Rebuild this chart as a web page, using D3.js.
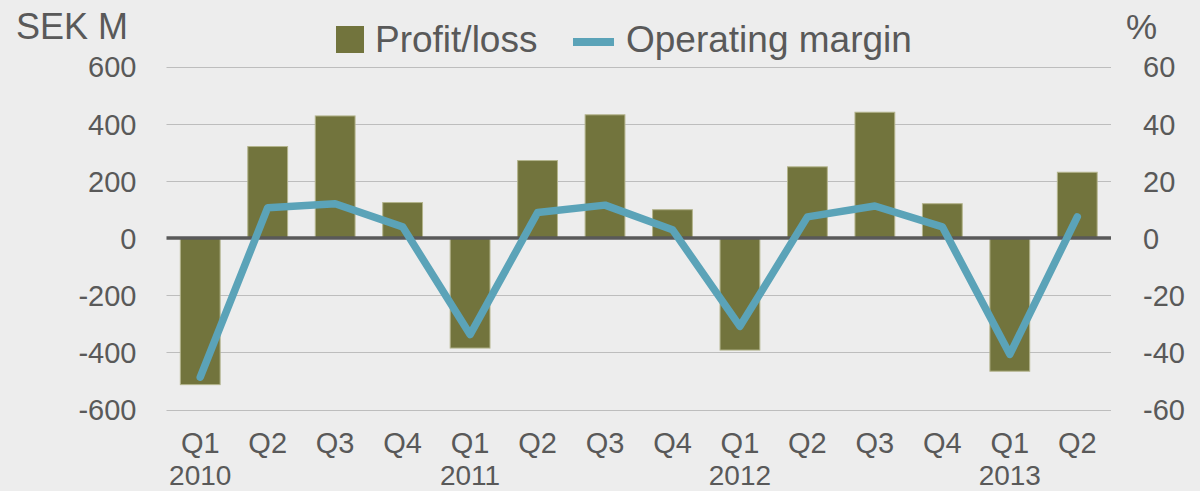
<!DOCTYPE html>
<html>
<head>
<meta charset="utf-8">
<script src="https://cdn.jsdelivr.net/npm/d3@7"></script>
<style>
  body { margin: 0; background: #ededed; }
  svg { display: block; font-family: "Liberation Sans", Arial, sans-serif; }
</style>
</head>
<body>
<div class="chart-container"></div>
<script>
var width = 1200;
var height = 491;

var quarters = ["Q1", "Q2", "Q3", "Q4", "Q1", "Q2", "Q3", "Q4", "Q1", "Q2", "Q3", "Q4", "Q1", "Q2"];
var years = ["2010", "", "", "", "2011", "", "", "", "2012", "", "", "", "2013", ""];
var profitLoss = [-513, 320, 427, 124, -385, 271, 431, 99, -392, 249, 440, 120, -466, 230];
var operatingMargin = [-48.7, 10.6, 12.0, 3.9, -33.8, 8.9, 11.5, 2.9, -30.9, 7.4, 11.2, 3.9, -40.7, 7.4];
var leftTicks = [-600, -400, -200, 0, 200, 400, 600];
var rightTicks = [-60, -40, -20, 0, 20, 40, 60];

var margin = { top: 67, right: 89, bottom: 82, left: 166.5 };
var textColor = "#595959";

var svg = d3.select(".chart-container")
  .append("svg")
  .attr("width", width)
  .attr("height", height);

svg.append("rect")
  .attr("width", width)
  .attr("height", height)
  .style("fill", "#ededed");

var idx = d3.range(quarters.length);

var x = d3.scaleBand()
  .domain(idx)
  .range([margin.left, width - margin.right])
  .paddingInner(0.41)
  .paddingOuter(0.205);

var xc = function (i) { return x(i) + x.bandwidth() / 2; };

var yLeft = d3.scaleLinear().domain([-600, 600]).range([height - margin.bottom + 0.5, margin.top - 0.5]);
var yRight = d3.scaleLinear().domain([-60, 60]).range(yLeft.range());

// plain hyphen for negatives, like the original
var fmt = function (d) { return String(d); };

// gridlines
svg.append("g")
  .selectAll("line")
  .data(leftTicks.filter(function (d) { return d !== 0; }))
  .enter()
  .append("line")
  .attr("x1", margin.left)
  .attr("x2", width - margin.right)
  .attr("y1", function (d) { return Math.round(yLeft(d)) + 0.5; })
  .attr("y2", function (d) { return Math.round(yLeft(d)) + 0.5; })
  .style("stroke", "#bdbdbd")
  .style("stroke-width", 1.2);

// left axis
var leftAxis = svg.append("g")
  .attr("transform", "translate(" + (margin.left - 30) + ",0)")
  .call(d3.axisLeft(yLeft).tickValues(leftTicks).tickFormat(fmt).tickSize(0).tickPadding(0));
leftAxis.select(".domain").remove();
leftAxis.selectAll("text")
  .style("font-size", "29px")
  .style("fill", textColor)
  .attr("dy", "0.36em");

// right axis
var rightAxis = svg.append("g")
  .attr("transform", "translate(" + (width - margin.right + 32) + ",0)")
  .call(d3.axisRight(yRight).tickValues(rightTicks).tickFormat(fmt).tickSize(0).tickPadding(0));
rightAxis.select(".domain").remove();
rightAxis.selectAll("text")
  .style("font-size", "29px")
  .style("fill", textColor)
  .attr("dy", "0.36em");

// bars
svg.append("g")
  .selectAll("rect")
  .data(profitLoss)
  .enter()
  .append("rect")
  .attr("x", function (d, i) { return x(i); })
  .attr("width", x.bandwidth())
  .attr("y", function (d) { return yLeft(Math.max(0, d)); })
  .attr("height", function (d) { return Math.abs(yLeft(d) - yLeft(0)); })
  .style("fill", "#72743d")
  .style("stroke", "#b3b48c")
  .style("stroke-width", 1);

// zero line
svg.append("line")
  .attr("x1", margin.left)
  .attr("x2", width - margin.right)
  .attr("y1", yLeft(0))
  .attr("y2", yLeft(0))
  .style("stroke", "#595959")
  .style("stroke-width", 3.5);

// operating margin line
var line = d3.line()
  .x(function (d, i) { return xc(i); })
  .y(function (d) { return yRight(d); });

svg.append("path")
  .attr("d", line(operatingMargin))
  .style("fill", "none")
  .style("stroke", "#5ba3b8")
  .style("stroke-width", 7.5)
  .style("stroke-linecap", "round")
  .style("stroke-linejoin", "round");

// x labels
var xLabels = svg.append("g")
  .selectAll("g")
  .data(idx)
  .enter()
  .append("g");

xLabels.append("text")
  .attr("x", function (i) { return xc(i); })
  .attr("y", 453)
  .attr("text-anchor", "middle")
  .style("font-size", "29px")
  .style("fill", textColor)
  .text(function (i) { return quarters[i]; });

xLabels.append("text")
  .attr("x", function (i) { return xc(i); })
  .attr("y", 485)
  .attr("text-anchor", "middle")
  .style("font-size", "28px")
  .style("fill", textColor)
  .text(function (i) { return years[i]; });

// axis titles
svg.append("text")
  .attr("x", 16)
  .attr("y", 39)
  .style("font-size", "36px")
  .style("fill", textColor)
  .text("SEK M");

svg.append("text")
  .attr("x", 1126)
  .attr("y", 39)
  .style("font-size", "35px")
  .style("fill", textColor)
  .text("%");

// legend
var legend = svg.append("g");
legend.append("rect")
  .attr("x", 336)
  .attr("y", 26)
  .attr("width", 28)
  .attr("height", 27)
  .style("fill", "#72743d");
legend.append("text")
  .attr("x", 375)
  .attr("y", 52)
  .style("font-size", "37px")
  .style("fill", textColor)
  .text("Profit/loss");
legend.append("line")
  .attr("x1", 573)
  .attr("x2", 614)
  .attr("y1", 42)
  .attr("y2", 42)
  .style("stroke", "#5ba3b8")
  .style("stroke-width", 8);
legend.append("text")
  .attr("x", 626)
  .attr("y", 52)
  .style("font-size", "37px")
  .style("fill", textColor)
  .text("Operating margin");
</script>
</body>
</html>
